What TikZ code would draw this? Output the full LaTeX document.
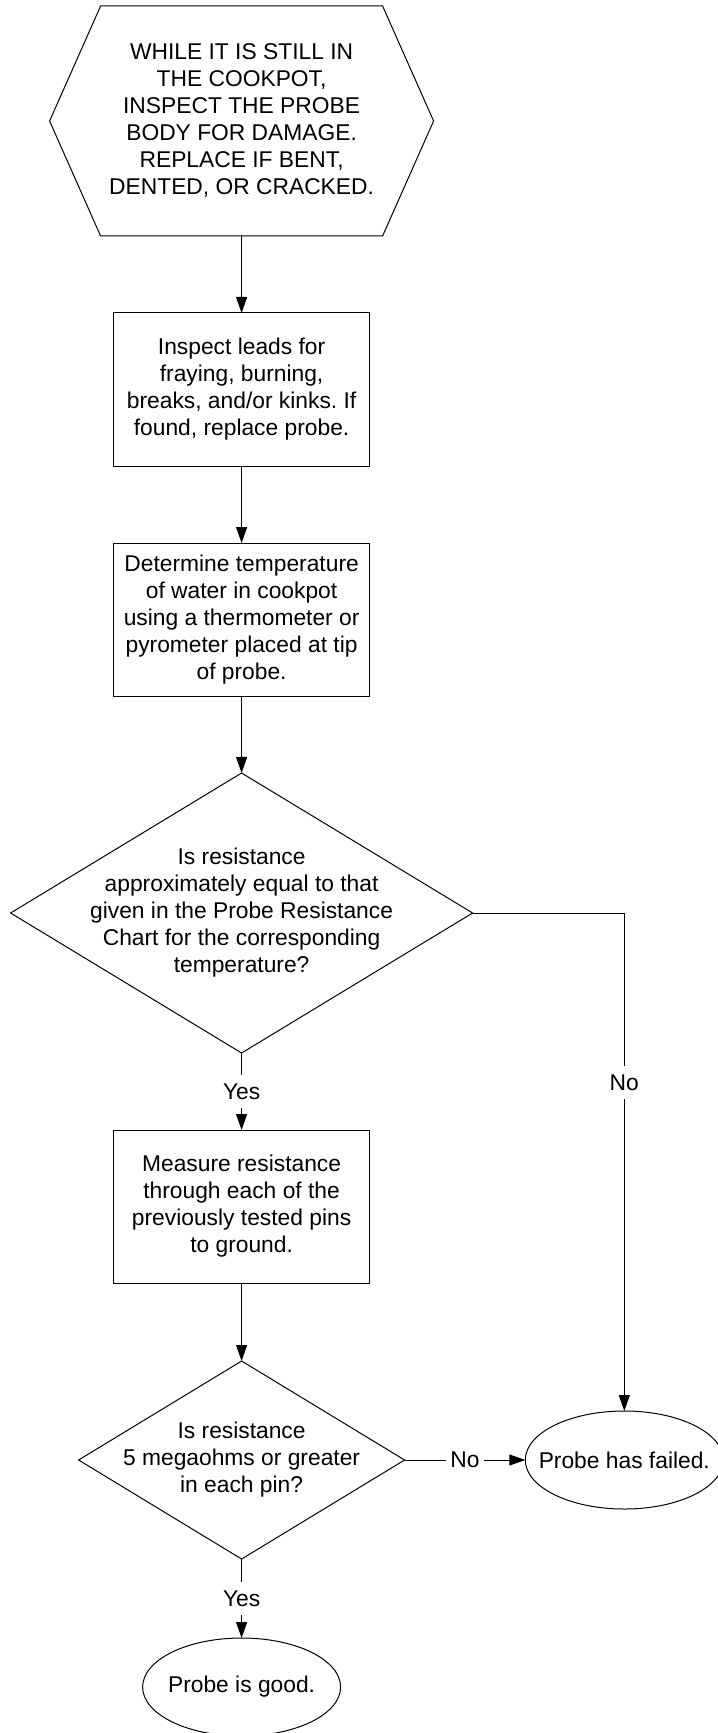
\documentclass[tikz,border=0pt]{standalone}
\usepackage{fontspec}
\setmainfont{Liberation Sans}
\usepackage{tikz}
\usetikzlibrary{shapes.geometric, arrows.meta, positioning}
\frenchspacing

\begin{document}
\begin{tikzpicture}[
  node distance=38.5pt,
  every node/.style={font=\fontsize{11.4}{13.5}\selectfont, outer sep=0pt},
  hexbox/.style={rectangle, minimum width=192pt, minimum height=115pt, align=center},
  box/.style={rectangle, draw, line width=0.5pt, minimum width=128pt,
              minimum height=76.5pt, align=center},
  decision/.style={diamond, draw, line width=0.5pt, aspect=1.65, inner sep=-6pt,
                   align=center},
  terminal/.style={ellipse, draw, line width=0.5pt, inner xsep=-8pt, inner ysep=0pt,
                   minimum width=99pt, minimum height=49pt},
  arrow/.style={-{Triangle[length=8pt,width=5.5pt]}, line width=0.5pt},
  lbl/.style={fill=white, inner xsep=2pt, inner ysep=4.3pt},
]
  \useasboundingbox (0,0) rectangle (358.5pt,-866.5pt);

  \node[hexbox] (body) at (120.8pt,-60.5pt)
    {WHILE IT IS STILL IN\\THE COOKPOT,\\INSPECT THE PROBE\\BODY FOR DAMAGE.\\REPLACE IF BENT,\\DENTED, OR CRACKED.};
  \node[box, below=of body] (leads)
    {Inspect leads for\\fraying, burning,\\breaks, and/or kinks. If\\found, replace probe.};
  \node[box, below=of leads] (temp)
    {Determine temperature\\of water in cookpot\\using a thermometer or\\pyrometer placed at tip\\of probe.};
  \node[decision, below=of temp, minimum width=231pt, minimum height=140pt] (chart)
    {Is resistance\\approximately equal to that\\given in the Probe Resistance\\Chart for the corresponding\\temperature?};
  \node[box, below=of chart] (pins)
    {Measure resistance\\through each of the\\previously tested pins\\to ground.};
  \node[decision, below=39pt of pins, minimum width=163pt, minimum height=99pt] (megohm)
    {Is resistance\\5 megaohms or greater\\in each pin?};
  \node[terminal, right=60.35pt of megohm] (failed) {Probe has failed.};
  \node[terminal, below=39.5pt of megohm] (good) {Probe is good.};

  % hexagon outline round the first step
  \draw[line width=0.5pt] (body.west) -- ([xshift=25.5pt]body.north west)
    -- ([xshift=-25.5pt]body.north east) -- (body.east)
    -- ([xshift=-25.5pt]body.south east) -- ([xshift=25.5pt]body.south west) -- cycle;

  \draw[arrow] (body)  -- (leads);
  \draw[arrow] (leads) -- (temp);
  \draw[arrow] (temp)  -- (chart);
  \draw[arrow] (chart) -- node[lbl]{Yes} (pins);
  \draw[arrow] (chart.east) -| node[lbl, pos=0.67]{No} (failed);
  \draw[arrow] (pins)  -- (megohm);
  \draw[arrow] (megohm) -- node[lbl]{No} (failed);
  \draw[arrow] (megohm) -- node[lbl]{Yes} (good);
\end{tikzpicture}
\end{document}
